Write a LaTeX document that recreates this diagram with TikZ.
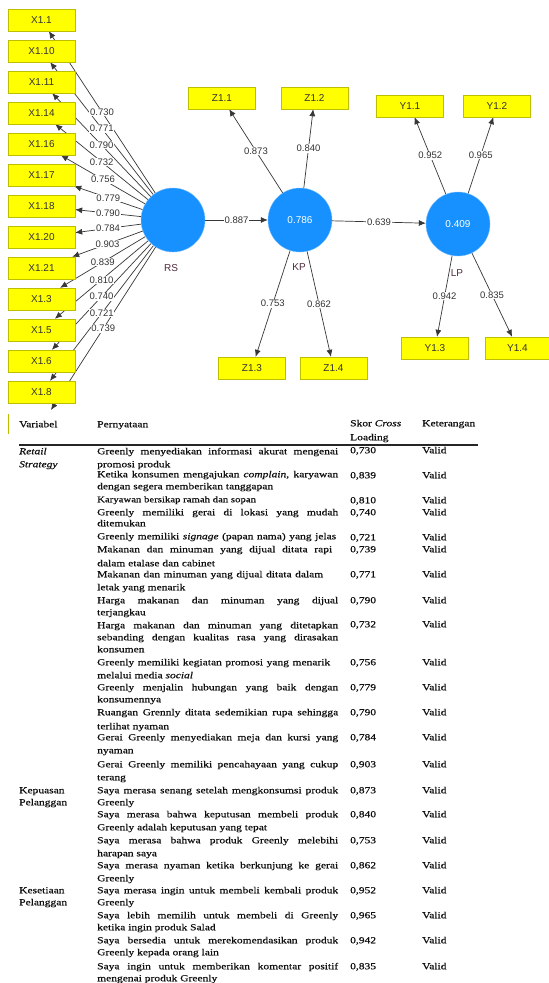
\documentclass[tikz,border=0pt]{standalone}
\usepackage{fontspec}
\setmainfont{Liberation Serif}
\newfontfamily\diagfont{Liberation Sans}
\newfontfamily\tabfont[FakeStretch=1.25,FakeBold=0.35]{Liberation Serif}
\usetikzlibrary{arrows.meta}
\definecolor{boxfill}{RGB}{255,255,0}
\definecolor{boxline}{RGB}{190,190,0}
\definecolor{lvfill}{RGB}{22,145,255}
\definecolor{lvline}{RGB}{120,190,255}
\definecolor{lvname}{RGB}{80,40,60}
\definecolor{arrowc}{RGB}{55,55,55}
\definecolor{txt}{RGB}{15,15,15}
\pgfdeclarelayer{bg}
\pgfdeclarelayer{lines}
\pgfsetlayers{bg,lines,main}
\newcounter{tlc}
\newcommand\tline[3]{\stepcounter{tlc}\edef\tlname{tl\arabic{tlc}}\node[tx] (\tlname) at (#1,#2) {#3};}
\newcommand\twide[3]{\stepcounter{tlc}\edef\tlname{tl\arabic{tlc}}\node[tx] (\tlname) at (97,#1) {\makebox[#2pt][s]{#3}};}
\newcommand\tjust[2]{\twide{#1}{241}{#2}}
\newcommand\trow[3]{\tline{350}{#1}{#2}\tline{422}{#1}{#3}}
\begin{document}
\begin{tikzpicture}[x=1pt,y=-1pt,
  ind/.style={draw=boxline, fill=boxfill, minimum width=67pt, minimum height=22pt, inner sep=0pt, font=\diagfont\fontsize{10}{10}\selectfont, text=black!80},
  lv/.style={circle, draw=lvline, fill=lvfill, minimum size=64pt, inner sep=0pt, font=\diagfont\fontsize{10}{10}\selectfont, text=white},
  lvlab/.style={inner sep=0pt, font=\diagfont\fontsize{10}{10}\selectfont, text=lvname},
  arr/.style={draw=arrowc, line width=0.7pt, -{Latex[length=7pt,width=6pt]}},
  lbl/.style={fill=white, inner sep=0.8pt, font=\diagfont\fontsize{9.5}{9.5}\selectfont, text=black!80},
  tx/.style={anchor=west, inner sep=0pt, text height=6.5pt, text depth=2pt, font=\tabfont\fontsize{9.2}{11}\selectfont, text=txt},
]
\begin{pgfonlayer}{bg}
\fill[white] (0,0) rectangle (549,983);
\end{pgfonlayer}
\useasboundingbox (0,0) rectangle (549,983);

% ---------- latent variables ----------
\node[lv] (RS) at (173,220) {};
\node[lv] (KP) at (300,220) {0.786};
\node[lv] (LP) at (458,224) {0.409};
\node[lvlab] (RSl) at (171,268) {RS};
\node[lvlab] (KPl) at (299,267) {KP};
\node[lvlab] (LPl) at (457,273) {LP};

% ---------- indicators ----------
\node[ind] (x1)  at (41.5,20)  {X1.1};
\node[ind] (x10) at (41.5,51)  {X1.10};
\node[ind] (x11) at (41.5,82)  {X1.11};
\node[ind] (x14) at (41.5,113) {X1.14};
\node[ind] (x16) at (41.5,144) {X1.16};
\node[ind] (x17) at (41.5,175) {X1.17};
\node[ind] (x18) at (41.5,206) {X1.18};
\node[ind] (x20) at (41.5,237) {X1.20};
\node[ind] (x21) at (41.5,268) {X1.21};
\node[ind] (x3)  at (41.5,299) {X1.3};
\node[ind] (x5)  at (41.5,330) {X1.5};
\node[ind] (x6)  at (41.5,361) {X1.6};
\node[ind] (x8)  at (41.5,392) {X1.8};
\coordinate (x9) at (51,410);

\node[ind] (z11) at (222,98)   {Z1.1};
\node[ind] (z12) at (314.5,98) {Z1.2};
\node[ind] (z13) at (252,368)  {Z1.3};
\node[ind] (z14) at (333.5,368){Z1.4};

\node[ind] (y11) at (410,106)  {Y1.1};
\node[ind] (y12) at (497,106)  {Y1.2};
\node[ind] (y13) at (435,348)  {Y1.3};
\node[ind, minimum width=65pt] (y14) at (517.5,348) {Y1.4};

% ---------- connectors ----------
\begin{pgfonlayer}{lines}
\foreach \t in {x1,x10,x11,x14,x16,x17,x18,x20,x21,x3,x5,x6,x8,x9}
  \draw[arr] (RS) -- (\t);
\foreach \t in {z11,z12,z13,z14} \draw[arr] (KP) -- (\t);
\foreach \t in {y11,y12,y13,y14} \draw[arr] (LP) -- (\t);
\draw[arr] (RS) -- (KP);
\draw[arr] (KP) -- (LP);
\end{pgfonlayer}

\path (RS) -- (x1)  node[lbl,midway] (l1) {0.730};
\path (RS) -- (x10) node[lbl,midway] (l2) {0.771};
\path (RS) -- (x11) node[lbl,midway] (l3) {0.790};
\path (RS) -- (x14) node[lbl,midway] (l4) {0.732};
\path (RS) -- (x16) node[lbl,midway] (l5) {0.756};
\path (RS) -- (x17) node[lbl,midway] (l6) {0.779};
\path (RS) -- (x18) node[lbl,midway] (l7) {0.790};
\path (RS) -- (x20) node[lbl,midway] (l8) {0.784};
\path (RS) -- (x21) node[lbl,midway] (l9) {0.903};
\path (RS) -- (x3)  node[lbl,midway] (l10) {0.839};
\path (RS) -- (x5)  node[lbl,midway] (l11) {0.810};
\path (RS) -- (x6)  node[lbl,midway] (l12) {0.740};
\path (RS) -- (x8)  node[lbl,midway] (l13) {0.721};
\path (RS) -- (x9)  node[lbl,midway] (l14) {0.739};
\path (KP) -- (z11) node[lbl,midway] (l15) {0.873};
\path (KP) -- (z12) node[lbl,midway] (l16) {0.840};
\path (KP) -- (z13) node[lbl,midway] (l17) {0.753};
\path (KP) -- (z14) node[lbl,midway] (l18) {0.862};
\path (LP) -- (y11) node[lbl,midway] (l19) {0.952};
\path (LP) -- (y12) node[lbl,midway] (l20) {0.965};
\path (LP) -- (y13) node[lbl,midway] (l21) {0.942};
\path (LP) -- (y14) node[lbl,midway] (l22) {0.835};
\path (RS) -- (KP) node[lbl,midway] (l23) {0.887};
\path (KP) -- (LP) node[lbl,midway] (l24) {0.639};

% remnant of the cut-off indicator box
\draw[draw=boxline, line width=1pt] (8.5,414) -- (8.5,434);

% ---------- table ----------
\tline{19}{425}{Variabel}
\tline{97}{425}{Pernyataan}
\tline{350}{424}{Skor \textit{Cross}}
\tline{350}{438}{Loading}
\tline{422}{424}{Keterangan}
\draw[line width=1.1pt, black!85] (19,445) -- (478,445);

\tline{19}{452}{\textit{Retail}}
\tline{19}{465}{\textit{Strategy}}
\tline{19}{791}{Kepuasan}
\tline{19}{803}{Pelanggan}
\tline{19}{891}{Kesetiaan}
\tline{19}{903}{Pelanggan}

\tjust{452}{Greenly menyediakan informasi akurat mengenai}
\tline{97}{465}{promosi produk}
\tjust{475}{Ketika konsumen mengajukan \textit{complain}, karyawan}
\tline{97}{487}{dengan segera memberikan tanggapan}
\tline{97}{500}{{\fontsize{8.6}{10}\selectfont Karyawan bersikap ramah dan sopan}}
\tjust{513}{Greenly memiliki gerai di lokasi yang mudah}
\tline{97}{524}{ditemukan}
\twide{537}{239}{Greenly memiliki \textit{signage} (papan nama) yang jelas}
\twide{550}{235}{Makanan dan minuman yang dijual ditata rapi}
\tline{97}{564}{dalam etalase dan cabinet}
\twide{575}{226}{Makanan dan minuman yang dijual ditata dalam}
\tline{97}{588}{letak yang menarik}
\tjust{601}{Harga makanan dan minuman yang dijual}
\tline{97}{613}{terjangkau}
\tjust{626}{Harga makanan dan minuman yang ditetapkan}
\tjust{638}{sebanding dengan kualitas rasa yang dirasakan}
\tline{97}{650}{konsumen}
\twide{663}{233}{Greenly memiliki kegiatan promosi yang menarik}
\tline{97}{676}{melalui media \textit{social}}
\tjust{688}{Greenly menjalin hubungan yang baik dengan}
\tline{97}{700}{konsumennya}
\tjust{713}{Ruangan Grennly ditata sedemikian rupa sehingga}
\tline{97}{727}{terlihat nyaman}
\tjust{738}{Gerai Greenly menyediakan meja dan kursi yang}
\tline{97}{751}{nyaman}
\tjust{765}{Gerai Greenly memiliki pencahayaan yang cukup}
\tline{97}{778}{terang}
\tjust{791}{Saya merasa senang setelah mengkonsumsi produk}
\tline{97}{803}{Greenly}
\tjust{815}{Saya merasa bahwa keputusan membeli produk}
\tline{97}{828}{Greenly adalah keputusan yang tepat}
\tjust{841}{Saya merasa bahwa produk Greenly melebihi}
\tline{97}{854}{harapan saya}
\tjust{866}{Saya merasa nyaman ketika berkunjung ke gerai}
\tline{97}{879}{Greenly}
\tjust{891}{Saya merasa ingin untuk membeli kembali produk}
\tline{97}{903}{Greenly}
\tjust{916}{Saya lebih memilih untuk membeli di Greenly}
\tline{97}{928}{ketika ingin produk Salad}
\tjust{941}{Saya bersedia untuk merekomendasikan produk}
\tline{97}{953}{Greenly kepada orang lain}
\tjust{967}{Saya ingin untuk memberikan komentar positif}
\tline{97}{979}{mengenai produk Greenly}

\trow{451}{0,730}{Valid}
\trow{476}{0,839}{Valid}
\trow{501}{0,810}{Valid}
\trow{513}{0,740}{Valid}
\trow{538}{0,721}{Valid}
\trow{550}{0,739}{Valid}
\trow{575}{0,771}{Valid}
\trow{601}{0,790}{Valid}
\trow{625}{0,732}{Valid}
\trow{663}{0,756}{Valid}
\trow{688}{0,779}{Valid}
\trow{713}{0,790}{Valid}
\trow{738}{0,784}{Valid}
\trow{765}{0,903}{Valid}
\trow{791}{0,873}{Valid}
\trow{815}{0,840}{Valid}
\trow{841}{0,753}{Valid}
\trow{866}{0,862}{Valid}
\trow{891}{0,952}{Valid}
\trow{916}{0,965}{Valid}
\trow{941}{0,942}{Valid}
\trow{967}{0,835}{Valid}
\end{tikzpicture}
\end{document}
